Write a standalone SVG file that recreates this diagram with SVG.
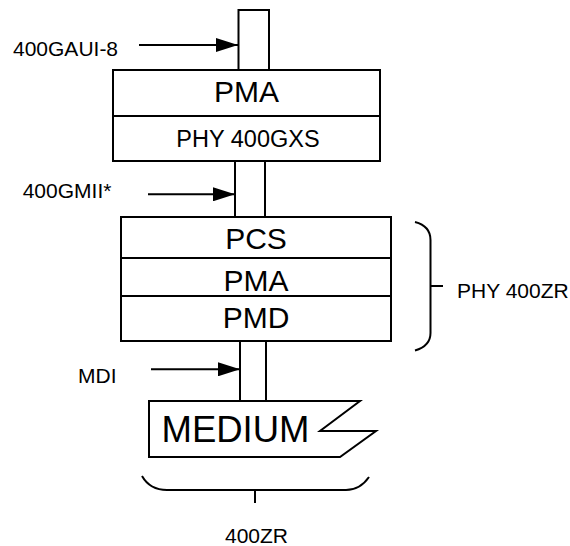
<svg xmlns="http://www.w3.org/2000/svg" width="570" height="546" viewBox="0 0 570 546">
<style>
.box{fill:#fff;stroke:#000;stroke-width:2}
.ln{fill:none;stroke:#000;stroke-width:2}
.t{font-family:"Liberation Sans",Arial,sans-serif;fill:#000}
.lbl{font-size:21px}
.mid{text-anchor:middle}
</style>
<defs>
<marker id="ah" markerUnits="userSpaceOnUse" markerWidth="22" markerHeight="14" refX="22" refY="7" orient="auto">
<path d="M0,0 L22,7 L0,14 Z" fill="#000"/>
</marker>
</defs>
<rect width="570" height="546" fill="#fff"/>
<g id="link1"><rect class="box" x="238.5" y="10" width="30.5" height="60"/></g>
<g id="pma1"><rect class="box" x="113" y="70" width="267" height="46"/><text class="t mid" x="246.5" y="101.5" font-size="30">PMA</text></g>
<g id="phy400gxs"><rect class="box" x="113" y="116" width="267" height="45"/><text class="t mid" x="248" y="146.5" font-size="23.5">PHY 400GXS</text></g>
<g id="link2"><rect class="box" x="235" y="161" width="30" height="56"/></g>
<g id="pcs"><rect class="box" x="121" y="217" width="270" height="41"/><text class="t mid" x="256" y="249" font-size="30">PCS</text></g>
<g id="pma2"><rect class="box" x="121" y="258" width="270" height="38"/><text class="t mid" x="256" y="290.5" font-size="30">PMA</text></g>
<g id="pmd"><rect class="box" x="121" y="296" width="270" height="45"/><text class="t mid" x="256" y="328" font-size="30">PMD</text></g>
<g id="link3"><rect class="box" x="240" y="341" width="26" height="60"/></g>
<g id="medium"><path class="box" d="M149,401 L360,401 L320,431 L376,431 L340,457 L149,457 Z"/><text class="t" x="161.5" y="441.5" font-size="36.5">MEDIUM</text></g>
<g id="labels">
<text class="t lbl" x="13" y="55.5">400GAUI-8</text>
<text class="t lbl" x="22.7" y="197.5">400GMII*</text>
<text class="t lbl" x="78" y="383">MDI</text>
<text class="t lbl" x="457" y="298">PHY 400ZR</text>
<text class="t lbl mid" x="256.5" y="543">400ZR</text>
</g>
<g id="connectors">
<line class="ln" x1="139" y1="45" x2="238" y2="45" marker-end="url(#ah)"/>
<line class="ln" x1="148" y1="194.3" x2="235" y2="194.3" marker-end="url(#ah)"/>
<line class="ln" x1="151" y1="369.3" x2="240" y2="369.3" marker-end="url(#ah)"/>
<path class="ln" d="M415,222 Q430.5,226 430.5,240 L430.5,333 Q430.5,346 415,350.5"/>
<line class="ln" x1="430.5" y1="286" x2="443" y2="286"/>
<path class="ln" d="M142,476 Q150,490 167,490 L346,490 Q360,490 369,477"/>
<line class="ln" x1="255" y1="490" x2="255" y2="503"/>
</g>
</svg>
